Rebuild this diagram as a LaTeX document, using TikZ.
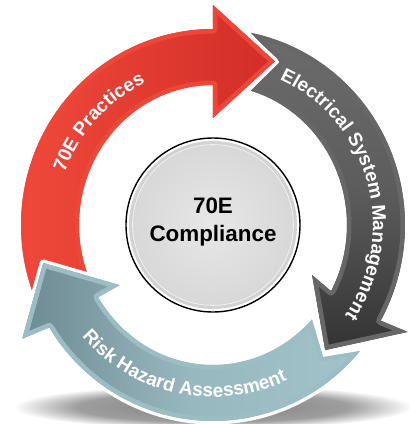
\documentclass[tikz,border=0pt]{standalone}
\usepackage{fontspec}
\setsansfont{Liberation Sans}
\usetikzlibrary{decorations.text}

\definecolor{redlight}{HTML}{F14A3C}
\definecolor{reddark}{HTML}{D22D27}
\definecolor{redrim}{HTML}{EF4638}
\definecolor{greytop}{HTML}{6C6C6C}
\definecolor{greymid}{HTML}{5C5C5C}
\definecolor{greybot}{HTML}{333333}
\definecolor{greyrim}{HTML}{676767}
\definecolor{bluedark}{HTML}{6E8A93}
\definecolor{bluemid}{HTML}{98B8C0}
\definecolor{bluelight}{HTML}{A3C3CB}
\definecolor{bluerim}{HTML}{9DBDC5}
\definecolor{discring}{HTML}{D2D2D2}
\definecolor{discin}{HTML}{E7E7E7}
\definecolor{discout}{HTML}{D8D8D8}

\pgfdeclareradialshading{shadowblur}{\pgfpointorigin}{color(0bp)=(black!50); color(17bp)=(black!38); color(25bp)=(white); color(50bp)=(white)}

\newcommand{\ringfont}{\sffamily\bfseries\fontsize{19}{20}\selectfont}

% arrow outlines, (0,0) is the middle of the disc
\newcommand{\redarrow}{(205:192 and 196) arc[start angle=205, end angle=90, x radius=192, y radius=196] -- (90:220) -- (69.3:175) -- (90:107) -- (90:140) arc[start angle=90, end angle=205, x radius=134, y radius=140] -- cycle}
\newcommand{\greyarrow}{(78.6:192 and 196) -- (67.7:176) -- (73.6:134 and 140) arc[start angle=73.6, end angle=-28.2, x radius=134, y radius=140] -- (-26.8:111) -- (-48.1:168) -- (-28.8:222) -- (-29.2:192 and 196) arc[start angle=-29.2, end angle=78.6, x radius=192, y radius=196] -- cycle}
\newcommand{\bluearrow}{(-40:192 and 196) -- (-50.2:172) -- (-42.4:134 and 140) arc[start angle=-42.4, end angle=-149, x radius=134, y radius=140] -- (212.8:111) -- (192.6:174) -- (210.8:222) -- (211.5:192 and 196) arc[start angle=211.5, end angle=320, x radius=192, y radius=196] -- cycle}

\newcommand{\bevelarrow}[3]{%
  \draw[white, line width=7pt, line join=round] #1;
  \shade[#2] #1;
  \begin{scope}
    \clip #1;
    \draw[#3, line width=9pt, line join=round] #1;
  \end{scope}}

\begin{document}
\begin{tikzpicture}[x=1pt, y=1pt,
    ringtext/.style={decorate, decoration={text along path, text align=center, text color=white, text={|\ringfont|#1}}}]
    \useasboundingbox (-213,-199) rectangle (197,225);

    % shadow under the ring
    \shade[shading=shadowblur] (0,-182) ellipse[x radius=200, y radius=22];

    % the three arrows
    \bevelarrow{\greyarrow}{top color=greytop, bottom color=greybot, middle color=greymid}{greyrim}
    \bevelarrow{\redarrow}{left color=redlight, right color=reddark}{redrim}
    \bevelarrow{\bluearrow}{left color=bluedark, right color=bluelight, middle color=bluemid}{bluerim}

    % centre disc
    \draw[line width=1.4pt, fill=white] (0,0) circle[radius=87];
    \fill[discring] (0,0) circle[radius=84];
    \shade[inner color=discin, outer color=discout] (0,0) circle[radius=80];
    \draw[white, opacity=.7, line width=.8pt] (0,0) circle[radius=80.4];
    \node[font=\sffamily\bfseries\fontsize{22.4}{28}\selectfont, align=center] (core) at (0,3) {70E\\Compliance};

    % labels along the ring
    \path[ringtext={70E Practices}] (200:157) arc[start angle=200, end angle=76, radius=157];
    \path[ringtext={Electrical System Management}] (78:160) arc[start angle=78, end angle=-47, radius=160];
    \path[ringtext={Risk Hazard Assessment}] (200:172) arc[start angle=200, end angle=316, radius=172];
\end{tikzpicture}
\end{document}
